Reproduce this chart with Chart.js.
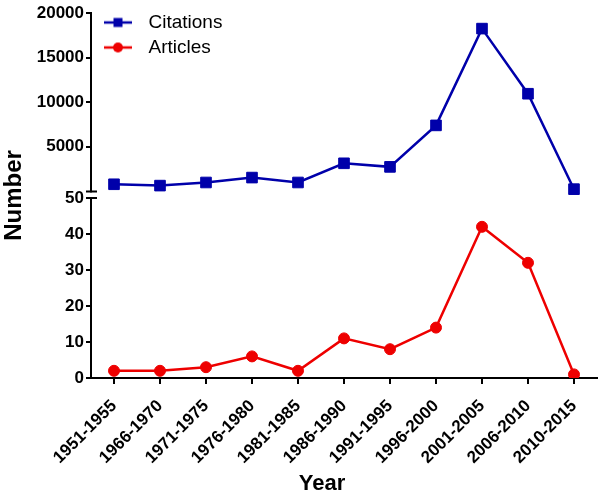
<!DOCTYPE html>
<html>
<head>
<meta charset="utf-8">
<script src="https://cdn.jsdelivr.net/npm/chart.js@4.4.1/dist/chart.umd.min.js"></script>
<style>
  html, body { margin: 0; padding: 0; background: #fff; }
  #wrap { width: 600px; height: 495px; }
</style>
</head>
<body>
<div id="wrap"><canvas id="myChart"></canvas></div>
<script>
// Periods on the x axis
var periods = ['1951-1955', '1966-1970', '1971-1975', '1976-1980', '1981-1985', '1986-1990',
               '1991-1995', '1996-2000', '2001-2005', '2006-2010', '2010-2015'];

// Values
var citations = [800, 650, 1000, 1550, 1000, 3150, 2750, 7400, 18250, 10950, 250];
var articles = [2, 2, 3, 6, 2, 11, 8, 14, 42, 32, 1];

// Ticks shown on each half of the broken y axis
var citationTicks = [5000, 10000, 15000, 20000];
var articleTicks = [0, 10, 20, 30, 40, 50];

var blue = '#0000AA';
var red = '#EE0000';
var font = "'Liberation Sans', Arial, sans-serif";

// Small line + marker picture used as the legend symbol
function legendMark(color, shape) {
    var c = document.createElement('canvas');
    c.width = 28;
    c.height = 14;
    var g = c.getContext('2d');
    g.strokeStyle = color;
    g.lineWidth = 2.5;
    g.beginPath();
    g.moveTo(0, 7);
    g.lineTo(28, 7);
    g.stroke();
    g.fillStyle = color;
    if (shape === 'rect') {
        g.fillRect(9.5, 2.5, 9, 9);
    } else {
        g.beginPath();
        g.arc(14, 7, 5, 0, Math.PI * 2);
        g.fill();
    }
    return c;
}
var marks = [legendMark(blue, 'rect'), legendMark(red, 'circle')];

// Draws the gap and the two little bars where the y axis is broken
var axisBreak = {
    id: 'axisBreak',
    afterLayout: function(chart) {
        // legend sits in the top-left corner of the plot
        chart.legend.left = chart.chartArea.left;
        chart.legend.top = 7;
    },
    afterDraw: function(chart) {
        var ctx = chart.ctx;
        var x = chart.chartArea.left;
        var yTop = chart.scales.yC.getPixelForValue(0);
        var yBot = chart.scales.yA.top;
        ctx.save();
        ctx.fillStyle = '#fff';
        ctx.fillRect(x - 4, yTop + 1, 8, yBot - yTop - 2);
        ctx.strokeStyle = '#000';
        ctx.lineWidth = 2;
        ctx.beginPath();
        ctx.moveTo(x - 5, yTop);
        ctx.lineTo(x + 6, yTop);
        ctx.moveTo(x - 5, yBot);
        ctx.lineTo(x + 6, yBot);
        ctx.stroke();
        ctx.restore();
    }
};

var yTickFont = { family: font, size: 17, weight: 'bold' };
var xTickFont = { family: font, size: 17, weight: 'bold' };

var ctx = document.getElementById('myChart').getContext('2d');
var myChart = new Chart(ctx, {
    type: 'line',
    data: {
        labels: periods,
        datasets: [{
            label: 'Citations',
            data: citations,
            yAxisID: 'yC',
            borderColor: blue,
            backgroundColor: blue,
            borderWidth: 2.5,
            pointStyle: 'rect',
            pointRadius: 7.5,
            pointBorderWidth: 1,
            pointBackgroundColor: blue,
            pointBorderColor: blue,
            tension: 0
        },
        {
            label: 'Articles',
            data: articles,
            yAxisID: 'yA',
            borderColor: red,
            backgroundColor: red,
            borderWidth: 2.5,
            pointStyle: 'circle',
            pointRadius: 5.5,
            pointBorderWidth: 1,
            pointBackgroundColor: red,
            pointBorderColor: red,
            tension: 0
        }]
    },
    options: {
        responsive: true,
        maintainAspectRatio: false,
        animation: false,
        layout: {
            autoPadding: false,
            padding: { top: 13, right: 3, left: 0, bottom: 0 }
        },
        plugins: {
            tooltip: { enabled: false },
            title: {
                display: true,
                text: 'Number',
                position: 'left',
                fullSize: false,
                color: '#000',
                font: { family: font, size: 24, weight: 'bold' },
                padding: { top: 0, bottom: 0 }
            },
            legend: {
                position: 'chartArea',
                align: 'start',
                labels: {
                    color: '#000',
                    font: { family: font, size: 19 },
                    padding: 6,
                    usePointStyle: true,
                    pointStyleWidth: 42,
                    generateLabels: function(chart) {
                        var items = Chart.defaults.plugins.legend.labels.generateLabels(chart);
                        items.forEach(function(it, i) { it.pointStyle = marks[i]; });
                        return items;
                    }
                }
            }
        },
        scales: {
            x: {
                offset: true,
                afterFit: function(s) {
                    s.height = 117;
                    s.paddingRight = 0;
                },
                border: { color: '#000', width: 2 },
                grid: { drawOnChartArea: false, color: '#000', lineWidth: 2, tickLength: 6 },
                ticks: {
                    color: '#000',
                    autoSkip: false,
                    minRotation: 45,
                    maxRotation: 45,
                    padding: 12,
                    font: xTickFont
                },
                title: {
                    display: true,
                    // the title sits a little left of the plot centre in the original
                    text: 'Year\u2002\u2002\u2002\u2002',
                    color: '#000',
                    font: { family: font, size: 22, weight: 'bold', lineHeight: 1 },
                    padding: { top: 0, bottom: 0 }
                }
            },
            yA: {
                type: 'linear',
                position: 'left',
                stack: 'y',
                stackWeight: 180,
                min: 0,
                max: 50,
                afterBuildTicks: function(s) {
                    s.ticks = articleTicks.map(function(v) { return { value: v }; });
                },
                afterFit: function(s) { s.width = 62.2; },
                border: { color: '#000', width: 2 },
                grid: { drawOnChartArea: false, color: '#000', lineWidth: 2, tickLength: 5 },
                ticks: {
                    color: '#000',
                    padding: 2,
                    font: yTickFont,
                    callback: function(v) { return String(v); }
                }
            },
            yC: {
                type: 'linear',
                position: 'left',
                stack: 'y',
                stackWeight: 185,
                min: -740,
                max: 20000,
                afterBuildTicks: function(s) {
                    s.ticks = citationTicks.map(function(v) { return { value: v }; });
                },
                afterFit: function(s) { s.width = 62.2; },
                border: { color: '#000', width: 2 },
                grid: { drawOnChartArea: false, color: '#000', lineWidth: 2, tickLength: 5 },
                ticks: {
                    color: '#000',
                    padding: 2,
                    font: yTickFont,
                    callback: function(v) { return String(v); }
                }
            }
        }
    },
    plugins: [axisBreak]
});
</script>
</body>
</html>
